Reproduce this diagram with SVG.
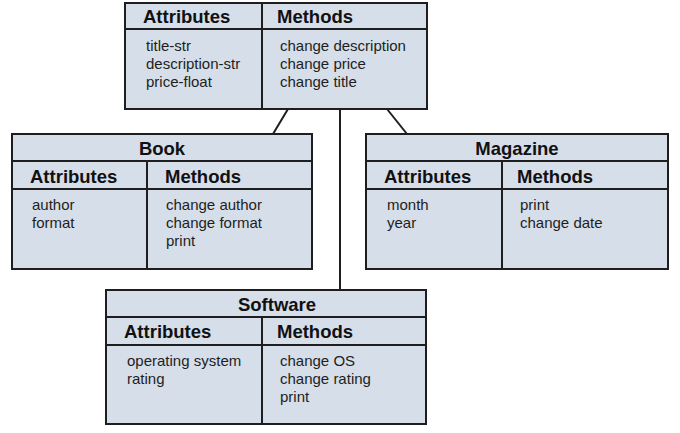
<svg xmlns="http://www.w3.org/2000/svg" width="680" height="433" viewBox="0 0 680 433">
<style>
.box{fill:#d6dee9;stroke:#1e1e1e;stroke-width:2}
.ln{stroke:#1e1e1e;stroke-width:2;fill:none}
.h{font-family:"Liberation Sans",Arial,sans-serif;font-weight:bold;font-size:18.5px;fill:#111}
.t{font-family:"Liberation Sans",Arial,sans-serif;font-size:15px;fill:#1e1e1e}
.c{text-anchor:middle}
</style>
<rect width="680" height="433" fill="#ffffff"/>
<g id="connectors">
<line class="ln" x1="288" y1="109" x2="273" y2="134"/>
<line class="ln" x1="340" y1="109" x2="340" y2="290"/>
<line class="ln" x1="387" y1="109" x2="407" y2="134"/>
</g>
<g id="base">
<rect class="box" x="125" y="3" width="302" height="106"/>
<line class="ln" x1="125" y1="29" x2="427" y2="29"/>
<line class="ln" x1="262" y1="3" x2="262" y2="109"/>
<text class="h" x="143" y="23">Attributes</text>
<text class="h" x="277" y="23">Methods</text>
<text class="t" x="146" y="51">title-str</text>
<text class="t" x="146" y="69">description-str</text>
<text class="t" x="146" y="87">price-float</text>
<text class="t" x="280" y="51">change description</text>
<text class="t" x="280" y="69">change price</text>
<text class="t" x="280" y="87">change title</text>
</g>
<g id="book">
<rect class="box" x="12" y="134" width="300" height="135"/>
<line class="ln" x1="12" y1="161" x2="312" y2="161"/>
<line class="ln" x1="12" y1="189" x2="312" y2="189"/>
<line class="ln" x1="147" y1="161" x2="147" y2="269"/>
<text class="h c" x="162" y="155">Book</text>
<text class="h" x="30" y="183">Attributes</text>
<text class="h" x="165" y="183">Methods</text>
<text class="t" x="32" y="210">author</text>
<text class="t" x="32" y="228">format</text>
<text class="t" x="166" y="210">change author</text>
<text class="t" x="166" y="228">change format</text>
<text class="t" x="166" y="246">print</text>
</g>
<g id="magazine">
<rect class="box" x="366" y="134" width="302" height="135"/>
<line class="ln" x1="366" y1="161" x2="668" y2="161"/>
<line class="ln" x1="366" y1="189" x2="668" y2="189"/>
<line class="ln" x1="502" y1="161" x2="502" y2="269"/>
<text class="h c" x="517" y="155">Magazine</text>
<text class="h" x="384" y="183">Attributes</text>
<text class="h" x="517" y="183">Methods</text>
<text class="t" x="387" y="210">month</text>
<text class="t" x="387" y="228">year</text>
<text class="t" x="520" y="210">print</text>
<text class="t" x="520" y="228">change date</text>
</g>
<g id="software">
<rect class="box" x="106" y="290" width="320" height="134"/>
<line class="ln" x1="106" y1="317" x2="426" y2="317"/>
<line class="ln" x1="106" y1="345" x2="426" y2="345"/>
<line class="ln" x1="262" y1="317" x2="262" y2="424"/>
<text class="h c" x="277" y="311">Software</text>
<text class="h" x="124" y="338">Attributes</text>
<text class="h" x="277" y="338">Methods</text>
<text class="t" x="127" y="366">operating system</text>
<text class="t" x="127" y="384">rating</text>
<text class="t" x="280" y="366">change OS</text>
<text class="t" x="280" y="384">change rating</text>
<text class="t" x="280" y="402">print</text>
</g>
</svg>
